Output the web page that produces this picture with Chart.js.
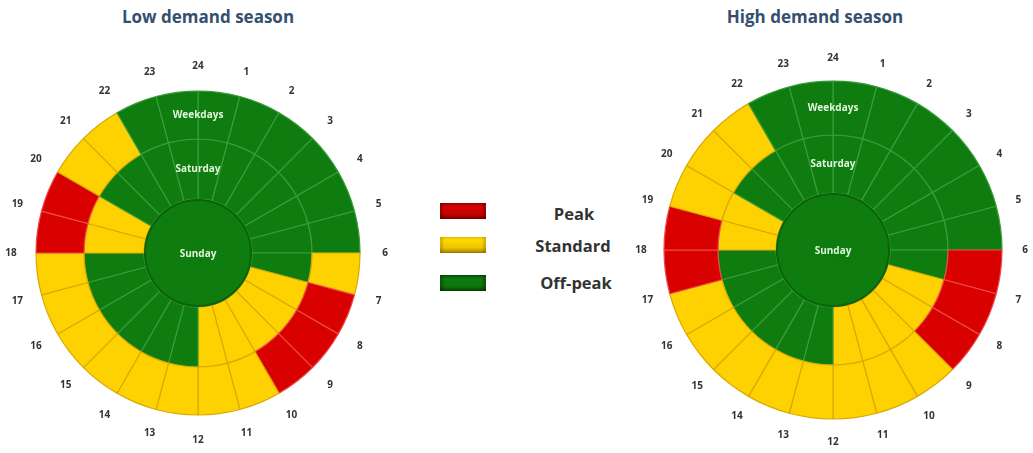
<!DOCTYPE html>
<html>
<head>
<meta charset="utf-8">
<script src="https://cdn.jsdelivr.net/npm/chart.js@4.4.1/dist/chart.umd.min.js"></script>
<style>
  html, body { margin: 0; padding: 0; background: #fff; }
  body { width: 1033px; height: 453px; overflow: hidden; position: relative; font-family: "Open Sans", sans-serif; }
  canvas { position: absolute; }
  .title { position: absolute; top: 5px; font-weight: 700; font-size: 17px; color: #34506e; white-space: nowrap; transform: translateX(-50%); }
  .swatch { position: absolute; left: 440px; width: 46px; height: 16px; }
  .swatch.peak { background: linear-gradient(to bottom, #a80000 0%, #d40000 22%, #c80000 70%, #7c0000 100%); box-shadow: inset 3px 0 2px rgba(0,0,0,.25), inset -3px 0 2px rgba(0,0,0,.25); }
  .swatch.standard { background: linear-gradient(to bottom, #f6d000 0%, #ffd800 25%, #f0c400 65%, #a88400 100%); box-shadow: inset 3px 0 2px rgba(0,0,0,.15), inset -3px 0 2px rgba(0,0,0,.15); }
  .swatch.offpeak { background: linear-gradient(to bottom, #06560a 0%, #0e7c0e 25%, #0c740c 70%, #054505 100%); box-shadow: inset 3px 0 2px rgba(0,0,0,.25), inset -3px 0 2px rgba(0,0,0,.25); }
  .ltext { position: absolute; font-weight: 700; font-size: 16.5px; color: #333; white-space: nowrap; transform: translate(-50%, -50%); }
</style>
</head>
<body>
<div class="title" style="left:208px">Low demand season</div>
<div class="title" style="left:815px">High demand season</div>

<div class="swatch peak" style="top:203px"></div>
<div class="swatch standard" style="top:237px"></div>
<div class="swatch offpeak" style="top:275px"></div>
<div class="ltext" id="lg0" style="left:574px;top:213px"></div>
<div class="ltext" id="lg1" style="left:573px;top:245px"></div>
<div class="ltext" id="lg2" style="left:576px;top:282px"></div>

<canvas id="lowChart" width="440" height="440" style="left:-22px;top:33px;width:440px;height:440px"></canvas>
<canvas id="highChart" width="440" height="440" style="left:613px;top:30px;width:440px;height:440px"></canvas>

<script>
// Hour slots around the clock; each slot is named by the hour it ends on
const hourLabels = ['1','2','3','4','5','6','7','8','9','10','11','12',
                    '13','14','15','16','17','18','19','20','21','22','23','24'];
// Length of each slot in hours
const hourSpan = [1,1,1,1,1,1,1,1,1,1,1,1,1,1,1,1,1,1,1,1,1,1,1,1];

// Tariff period per hour slot: P = Peak, S = Standard, O = Off-peak
const lowWeekdays  = ['O','O','O','O','O','O','S','P','P','P','S','S','S','S','S','S','S','S','P','P','S','S','O','O'];
const lowSaturday  = ['O','O','O','O','O','O','O','S','S','S','S','S','O','O','O','O','O','O','S','S','O','O','O','O'];
const lowSunday    = ['O','O','O','O','O','O','O','O','O','O','O','O','O','O','O','O','O','O','O','O','O','O','O','O'];
const highWeekdays = ['O','O','O','O','O','O','P','P','P','S','S','S','S','S','S','S','S','P','P','S','S','S','O','O'];
const highSaturday = ['O','O','O','O','O','O','O','S','S','S','S','S','O','O','O','O','O','O','S','S','O','O','O','O'];
const highSunday   = ['O','O','O','O','O','O','O','O','O','O','O','O','O','O','O','O','O','O','O','O','O','O','O','O'];

const dayNames = ['Weekdays', 'Saturday', 'Sunday'];
const periodCodes = ['P', 'S', 'O'];
const periodNames = ['Peak', 'Standard', 'Off-peak'];

const fillColor = { P: '#d90000', S: '#fed200', O: '#0e7c0e' };
const lineColor = { P: '#ec4a4a', S: '#d9a900', O: '#3a9c3a' };

periodNames.forEach((name, i) => { document.getElementById('lg' + i).textContent = name; });

// Writes the hour numbers around the rim, the ring names and the rim of the centre disc
const ringText = {
  id: 'ringText',
  afterDatasetsDraw(chart, args, opts) {
    const ctx = chart.ctx;
    const outer = chart.getDatasetMeta(0).data;
    const middle = chart.getDatasetMeta(1).data;
    const inner = chart.getDatasetMeta(2).data;
    const cx = outer[0].x, cy = outer[0].y;
    ctx.save();

    ctx.beginPath();
    ctx.arc(cx, cy, inner[0].outerRadius - 1, 0, Math.PI * 2);
    ctx.strokeStyle = '#0a620a';
    ctx.lineWidth = 2;
    ctx.stroke();

    ctx.textAlign = 'center';
    ctx.textBaseline = 'middle';
    ctx.font = 'bold 10px "Open Sans"';
    ctx.fillStyle = '#333333';
    outer.forEach((arc, i) => {
      const r = arc.outerRadius + opts.gap;
      ctx.fillText(chart.data.labels[i], cx + r * Math.cos(arc.endAngle), cy + r * Math.sin(arc.endAngle));
    });

    ctx.font = 'bold 10px "Open Sans"';
    ctx.fillStyle = '#e2f6dc';
    const ds = chart.data.datasets;
    const rW = (outer[0].innerRadius + outer[0].outerRadius) / 2;
    const rS = (middle[0].innerRadius + middle[0].outerRadius) / 2;
    ctx.fillText(ds[0].label, cx, cy - rW);
    ctx.fillText(ds[1].label, cx, cy - rS);
    ctx.fillText(ds[2].label, cx, cy + 1);
    ctx.restore();
  }
};

function ring(label, codes, weight, lines) {
  return {
    label: label,
    data: hourSpan,
    weight: weight,
    backgroundColor: codes.map(c => fillColor[c]),
    borderColor: codes.map(c => (lines ? lineColor : fillColor)[c]),
    borderWidth: 1.2,
    hoverOffset: 0
  };
}

function makeChart(id, days, radius, weights, gap) {
  return new Chart(document.getElementById(id), {
    type: 'doughnut',
    data: {
      labels: hourLabels,
      datasets: [
        ring(dayNames[0], days[0], weights[0], true),
        ring(dayNames[1], days[1], weights[1], true),
        ring(dayNames[2], days[2], weights[2], false)
      ]
    },
    options: {
      responsive: false,
      animation: false,
      cutout: 0,
      radius: radius,
      layout: { padding: 0 },
      plugins: {
        legend: { display: false },
        title: { display: false },
        tooltip: { enabled: false },
        ringText: { gap: gap }
      }
    },
    plugins: [ringText]
  });
}

makeChart('lowChart', [lowWeekdays, lowSaturday, lowSunday], 162, [48, 60, 54], 25);
makeChart('highChart', [highWeekdays, highSaturday, highSunday], 169, [54, 58, 57], 23);
</script>
</body>
</html>
